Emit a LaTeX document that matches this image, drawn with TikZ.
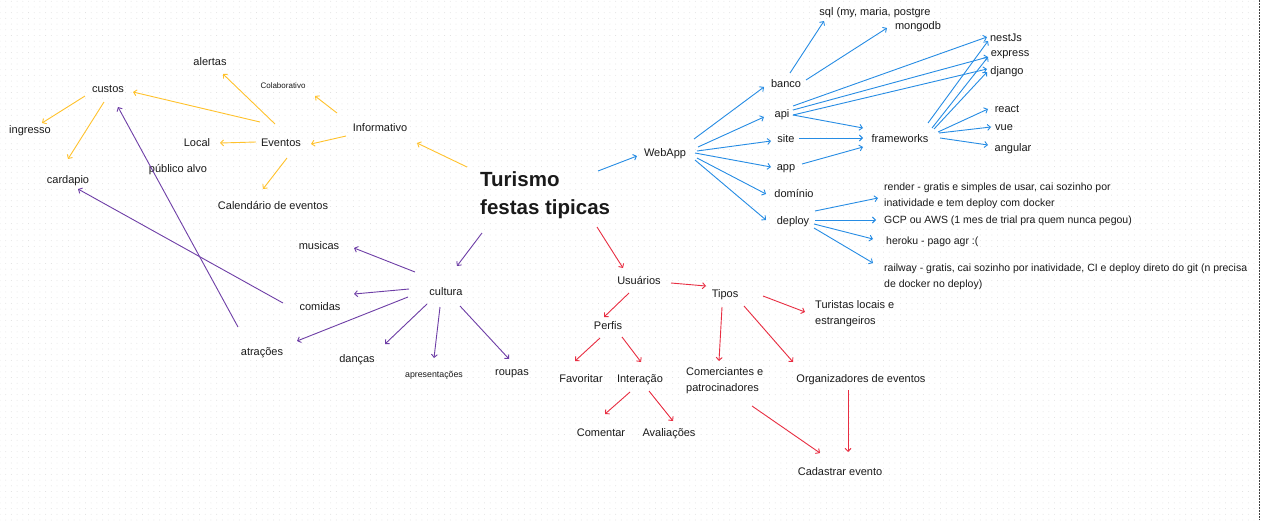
\documentclass[tikz,border=0pt]{standalone}
\usepackage{fontspec}
\setmainfont{Liberation Sans}
\usetikzlibrary{arrows.meta,patterns.meta}
\definecolor{cy}{RGB}{255,194,44}
\definecolor{cp}{RGB}{110,62,166}
\definecolor{cb}{RGB}{38,140,228}
\definecolor{cr}{RGB}{232,46,66}
\definecolor{txt}{RGB}{26,26,26}
\newcommand\myarrow[5]{\draw[#1] ([shift={(#3)}]#2) -- ([shift={(#5)}]#4);}
\begin{document}
\begin{tikzpicture}[x=1pt,y=-1pt,
  lbl/.style={inner sep=0pt, text height=1.0em, text depth=0.14em, font=\fontsize{11}{15.5}\selectfont, text=txt},
  small/.style={lbl, font=\fontsize{8}{10}\selectfont},
  ml/.style={inner sep=0pt, align=left, anchor=base west, font=\fontsize{11}{15.5}\selectfont, text=txt},
  dep/.style={font=\fontsize{10.5}{15.5}\selectfont},
  con/.style={line width=0.9pt, -{Straight Barb[length=3pt,width=6pt]}},
  ya/.style={con, draw=cy},
  pa/.style={con, draw=cp},
  ba/.style={con, draw=cb},
  ra/.style={con, draw=cr}]
\useasboundingbox (0,0) rectangle (1261,520);
\fill[white] (0,0) rectangle (1261,520);
\fill[pattern={Dots[distance=5.7pt,radius=0.45pt]}, pattern color=black!13] (0,0) rectangle (1261,520);
\draw[black!75, line width=0.8pt, dash pattern=on 1.5pt off 1.5pt] (1259.5,0) -- (1259.5,520);

% title (base = last line)
\node[ml, font=\bfseries\fontsize{20.5}{28}\selectfont] (title) at (480,214) {Turismo\\festas tipicas};

% yellow branch
\node[lbl] (custos) at (108,88) {custos};
\node[lbl] (ingresso) at (30,129) {ingresso};
\node[lbl] (cardapio) at (68,179) {cardapio};
\node[lbl] (alertas) at (210,61) {alertas};
\node[small] (colab) at (283,84) {Colaborativo};
\node[lbl] (local) at (197,142) {Local};
\node[lbl] (eventos) at (281,142) {Eventos};
\node[lbl] (informativo) at (380,127) {Informativo};
\node[lbl] (publico) at (178,168) {público alvo};
\node[lbl] (calendario) at (273,205) {Calendário de eventos};

\myarrow{ya}{custos.center}{-23,8}{ingresso.center}{12,-6}
\myarrow{ya}{custos.center}{-4,14}{cardapio.center}{0,-20}
\myarrow{ya}{eventos.center}{-21,-20}{custos.center}{25,4}
\myarrow{ya}{eventos.center}{-6,-18}{alertas.center}{13,13}
\myarrow{ya}{eventos.center}{-25,0}{local.center}{23,1}
\myarrow{ya}{eventos.center}{6,16}{calendario.center}{-10,-16}
\myarrow{ya}{informativo.center}{-43,-14}{colab.center}{32,12}
\myarrow{ya}{informativo.center}{-34,9}{eventos.center}{30,2}
\myarrow{ya}{title.base west}{-13,-47}{informativo.center}{37,16}

% purple branch
\node[lbl] (cultura) at (446,291) {cultura};
\node[lbl] (musicas) at (319,245) {musicas};
\node[lbl] (comidas) at (320,306) {comidas};
\node[lbl] (atracoes) at (262,351) {atrações};
\node[lbl] (dancas) at (357,358) {danças};
\node[small, font=\fontsize{8.8}{10}\selectfont] (apres) at (434,373) {apresentações};
\node[lbl] (roupas) at (512,371) {roupas};

\myarrow{pa}{title.base west}{2,19}{cultura.center}{11,-25}
\myarrow{pa}{cultura.center}{-31,-19}{musicas.center}{35,3}
\myarrow{pa}{cultura.center}{-37,-2}{comidas.center}{34,-12}
\myarrow{pa}{cultura.center}{-38,6}{atracoes.center}{35,-10}
\myarrow{pa}{cultura.center}{-19,13}{dancas.center}{28,-14}
\myarrow{pa}{cultura.center}{-6,16}{apres.center}{0,-15}
\myarrow{pa}{cultura.center}{14,15}{roupas.center}{-3,-12}
\myarrow{pa}{comidas.center}{-37,-3}{cardapio.center}{10,10}
\myarrow{pa}{atracoes.center}{-24,-24}{custos.center}{10,19}

% blue branch
\node[lbl] (webapp) at (665,152) {WebApp};
\node[lbl] (banco) at (786,83) {banco};
\node[lbl] (api) at (782,113) {api};
\node[lbl] (site) at (786,138) {site};
\node[lbl] (app) at (786,166) {app};
\node[lbl] (dominio) at (794,193) {domínio};
\node[lbl] (deploy) at (793,220) {deploy};
\node[lbl] (frameworks) at (900,138) {frameworks};
\node[lbl] (sql) at (875,11) {sql (my, maria, postgre};
\node[lbl] (mongodb) at (918,25) {mongodb};
\node[lbl] (nestjs) at (1006,37) {nestJs};
\node[lbl] (express) at (1010,52) {express};
\node[lbl] (django) at (1007,70) {django};
\node[lbl] (react) at (1007,108) {react};
\node[lbl] (vue) at (1004,126) {vue};
\node[lbl] (angular) at (1013,147) {angular};
\node[ml, dep] (render) at (884,206) {render - gratis e simples de usar, cai sozinho por\\inatividade e tem deploy com docker};
\node[lbl, dep, anchor=west] (gcp) at (884,219) {GCP ou AWS (1 mes de trial pra quem nunca pegou)};
\node[lbl, dep, anchor=west] (heroku) at (886,240) {heroku - pago agr :(};
\node[ml, dep] (railway) at (884,287) {railway - gratis, cai sozinho por inatividade, CI e deploy direto do git (n precisa\\de docker no deploy)};

\myarrow{ba}{title.base west}{118,-43}{webapp.center}{-28,4}
\myarrow{ba}{webapp.center}{29,-13}{banco.center}{-22,4}
\myarrow{ba}{webapp.center}{33,-5}{api.center}{-18,4}
\myarrow{ba}{webapp.center}{32,-1}{site.center}{-15,3}
\myarrow{ba}{webapp.center}{30,1}{app.center}{-15,1}
\myarrow{ba}{webapp.center}{32,6}{dominio.center}{-28,1}
\myarrow{ba}{webapp.center}{30,8}{deploy.center}{-27,0}
\myarrow{ba}{banco.center}{4,-10}{sql.center}{-51,10}
\myarrow{ba}{banco.center}{20,-3}{mongodb.center}{-31,3}
\myarrow{ba}{api.center}{11,-7}{nestjs.center}{-19,0}
\myarrow{ba}{api.center}{11,-3}{express.center}{-22,5}
\myarrow{ba}{api.center}{11,2}{django.center}{-20,-1}
\myarrow{ba}{api.center}{11,2}{frameworks.center}{-37,-10}
\myarrow{ba}{site.center}{13,0}{frameworks.center}{-37,0}
\myarrow{ba}{app.center}{16,-2}{frameworks.center}{-37,9}
\myarrow{ba}{frameworks.center}{28,-15}{nestjs.center}{-18,4}
\myarrow{ba}{frameworks.center}{32,-10}{express.center}{-22,5}
\myarrow{ba}{frameworks.center}{34,-9}{django.center}{-20,2}
\myarrow{ba}{frameworks.center}{38,-6}{react.center}{-19,1}
\myarrow{ba}{frameworks.center}{39,-5}{vue.center}{-13,1}
\myarrow{ba}{frameworks.center}{40,0}{angular.center}{-25,-2}
\myarrow{ba}{deploy.center}{22,-9}{render.base west}{-6,-8}
\myarrow{ba}{deploy.center}{22,0}{gcp.west}{-8,1}
\myarrow{ba}{deploy.center}{21,4}{heroku.west}{-13,-1}
\myarrow{ba}{deploy.center}{21,8}{railway.base west}{-11,-24}

% red branch
\node[lbl] (usuarios) at (639,280) {Usuários};
\node[lbl] (tipos) at (725,293) {Tipos};
\node[lbl] (perfis) at (608,325) {Perfis};
\node[lbl] (favoritar) at (581,378) {Favoritar};
\node[lbl] (interacao) at (640,378) {Interação};
\node[lbl] (comentar) at (601,432) {Comentar};
\node[lbl] (avaliacoes) at (669,432) {Avaliações};
\node[ml] (turistas) at (815,324) {Turistas locais e\\estrangeiros};
\node[ml] (comerciantes) at (686,391) {Comerciantes e\\patrocinadores};
\node[lbl] (organizadores) at (861,378) {Organizadores de eventos};
\node[lbl] (cadastrar) at (840,471) {Cadastrar evento};

\myarrow{ra}{title.base west}{117,13}{usuarios.center}{-16,-12}
\myarrow{ra}{usuarios.center}{32,3}{tipos.center}{-19,-7}
\myarrow{ra}{usuarios.center}{-10,13}{perfis.center}{-4,-8}
\myarrow{ra}{perfis.center}{-8,13}{favoritar.center}{-6,-17}
\myarrow{ra}{perfis.center}{14,12}{interacao.center}{1,-16}
\myarrow{ra}{interacao.center}{-10,14}{comentar.center}{4,-18}
\myarrow{ra}{interacao.center}{9,13}{avaliacoes.center}{4,-11}
\myarrow{ra}{tipos.center}{38,3}{turistas.base west}{-10,-12}
\myarrow{ra}{tipos.center}{-3,14}{comerciantes.base west}{33,-30}
\myarrow{ra}{tipos.center}{19,13}{organizadores.center}{-68,-16}
\myarrow{ra}{comerciantes.base west}{66,15}{cadastrar.center}{-20,-18}
\myarrow{ra}{organizadores.center}{-13,12}{cadastrar.center}{8,-19}
\end{tikzpicture}
\end{document}
